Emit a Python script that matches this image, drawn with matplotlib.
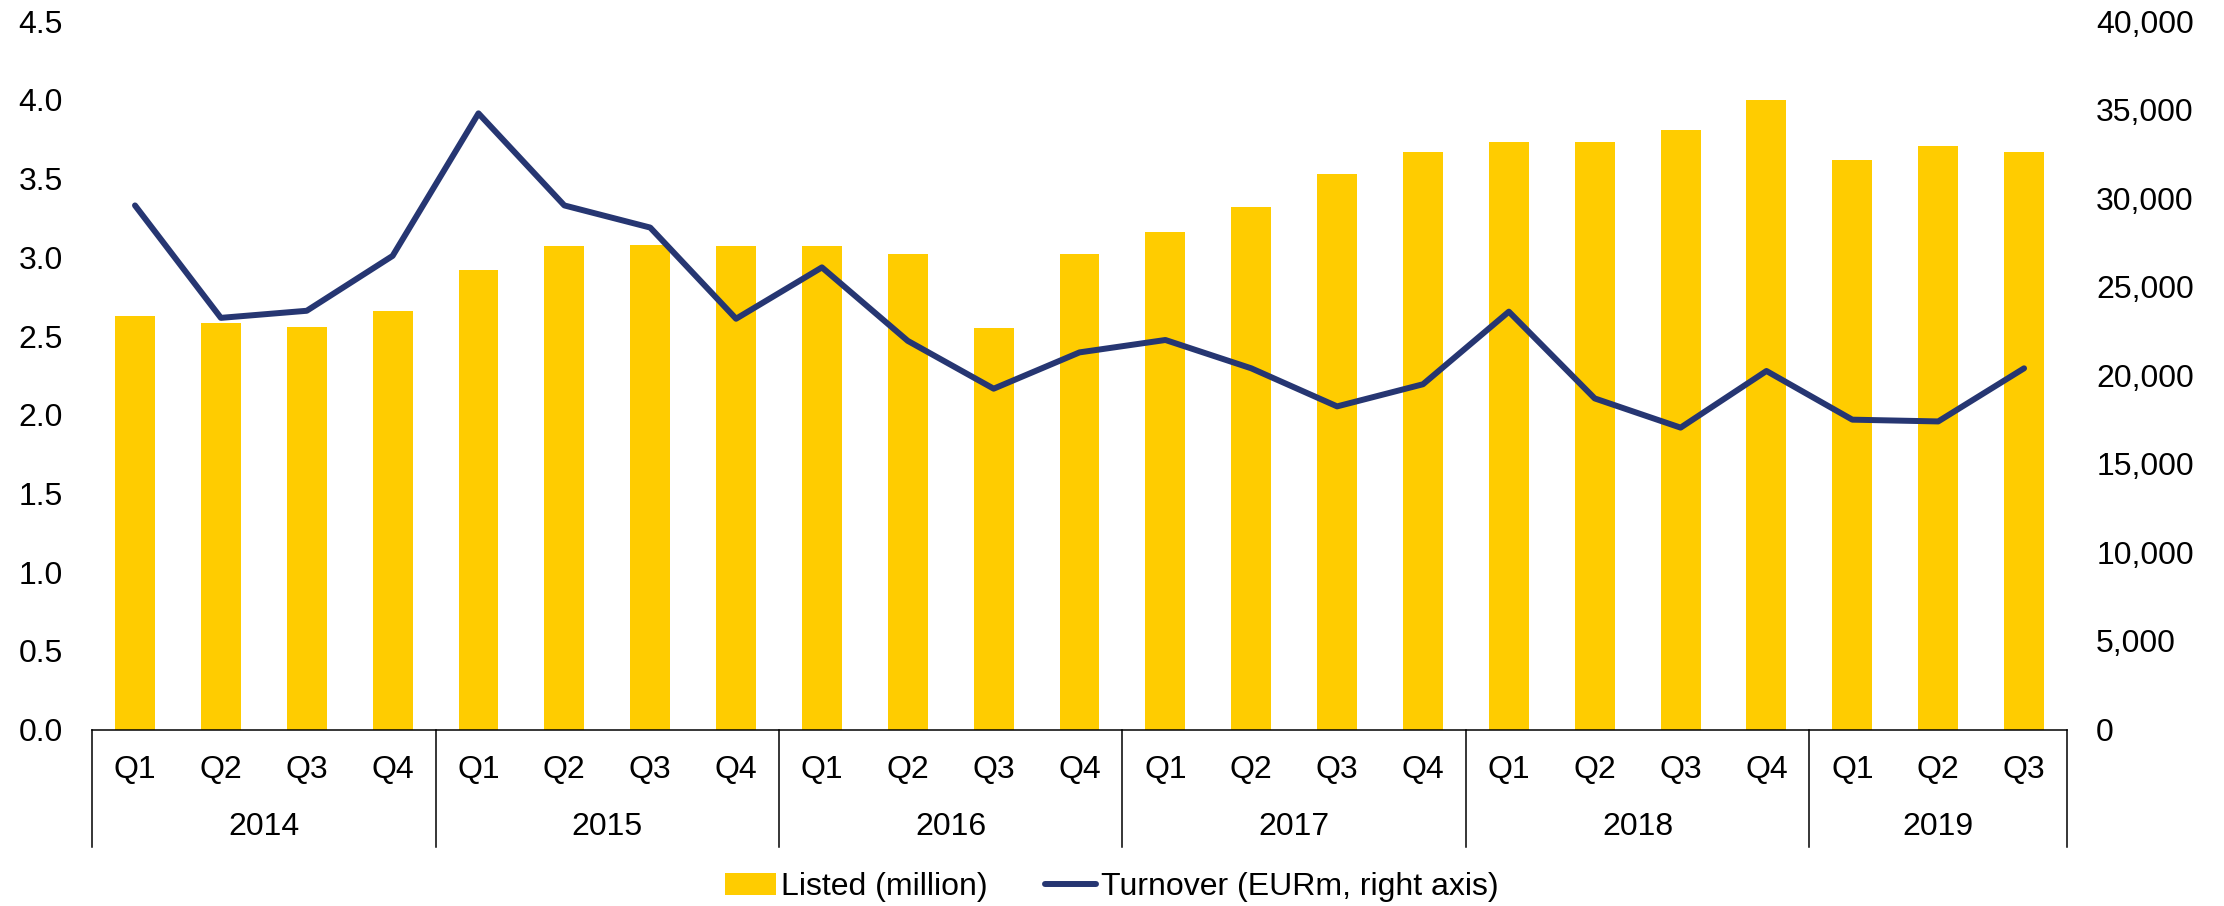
import numpy as np
import matplotlib
matplotlib.use("Agg")
import matplotlib.pyplot as plt
import matplotlib.transforms as mtransforms
from matplotlib.ticker import FuncFormatter, MultipleLocator

plt.rcParams['font.family'] = ['Liberation Sans', 'DejaVu Sans']

years = ['2014', '2015', '2016', '2017', '2018', '2019']
quarters = ['Q1', 'Q2', 'Q3', 'Q4'] * 5 + ['Q1', 'Q2', 'Q3']

# listed (million), left axis
listed = [2.63, 2.58, 2.56, 2.66,
          2.92, 3.07, 3.08, 3.07,
          3.07, 3.02, 2.55, 3.02,
          3.16, 3.32, 3.53, 3.67,
          3.73, 3.73, 3.81, 4.00,
          3.62, 3.71, 3.67]

# turnover (EURm), right axis
turnover = [29600, 23250, 23650, 26750,
            34800, 29600, 28350, 23200,
            26100, 21950, 19250, 21300,
            22000, 20400, 18250, 19500,
            23600, 18700, 17050, 20250,
            17500, 17400, 20400]

bar_color = '#FFCC00'
line_color = '#263672'
fs = 23

x = np.arange(len(listed))

fig = plt.figure(figsize=(22.24, 9.06), dpi=100)
ax = fig.add_axes([0.0414, 0.1948, 0.888, 0.7817])
ax.bar(x, listed, width=0.465, color=bar_color, label='Listed (million)')
ax.set_xlim(-0.5, len(x) - 0.5)
ax.set_ylim(0, 4.5)
ax.yaxis.set_major_locator(MultipleLocator(0.5))
ax.yaxis.set_major_formatter(FuncFormatter(lambda v, p: '%.1f' % v))
ax.tick_params(axis='y', length=0, pad=21, labelsize=fs)
ax.set_xticks([])

ax2 = ax.twinx()
ax2.plot(x, turnover, color=line_color, lw=4.3, solid_capstyle='round',
         solid_joinstyle='round', label='Turnover (EURm, right axis)')
ax2.set_ylim(0, 40000)
ax2.yaxis.set_major_locator(MultipleLocator(5000))
ax2.yaxis.set_major_formatter(FuncFormatter(lambda v, p: '{:,.0f}'.format(v)))
ax2.tick_params(axis='y', length=0, pad=21, labelsize=fs)

for a in (ax, ax2):
    for s in ('top', 'left', 'right'):
        a.spines[s].set_visible(False)
ax.spines['bottom'].set_linewidth(1.1)
ax2.spines['bottom'].set_visible(False)

# category labels (quarters / years) below the axis
trans = mtransforms.blended_transform_factory(ax.transData, ax.transAxes)
for i, q in enumerate(quarters):
    ax.text(i, -0.057, q, transform=trans, ha='center', va='center', fontsize=fs)

start = 0
for y in years:
    n = 4 if y != '2019' else 3
    ax.text(start + (n - 1) / 2, -0.138, y, transform=trans, ha='center',
            va='center', fontsize=fs)
    start += n

bounds = [-0.5, 3.5, 7.5, 11.5, 15.5, 19.5, 22.5]
for b in bounds:
    ax.plot([b, b], [0, -0.166], transform=trans, color='black', lw=1.1,
            clip_on=False)

h1, l1 = ax.get_legend_handles_labels()
h2, l2 = ax2.get_legend_handles_labels()
fig.legend(h1 + h2, l1 + l2, loc='center', bbox_to_anchor=(0.5, 0.021),
           ncol=2, frameon=False, fontsize=fs, handlelength=1.6,
           handletextpad=0.15, columnspacing=1.8)

fig.savefig('out.png', dpi=100)
